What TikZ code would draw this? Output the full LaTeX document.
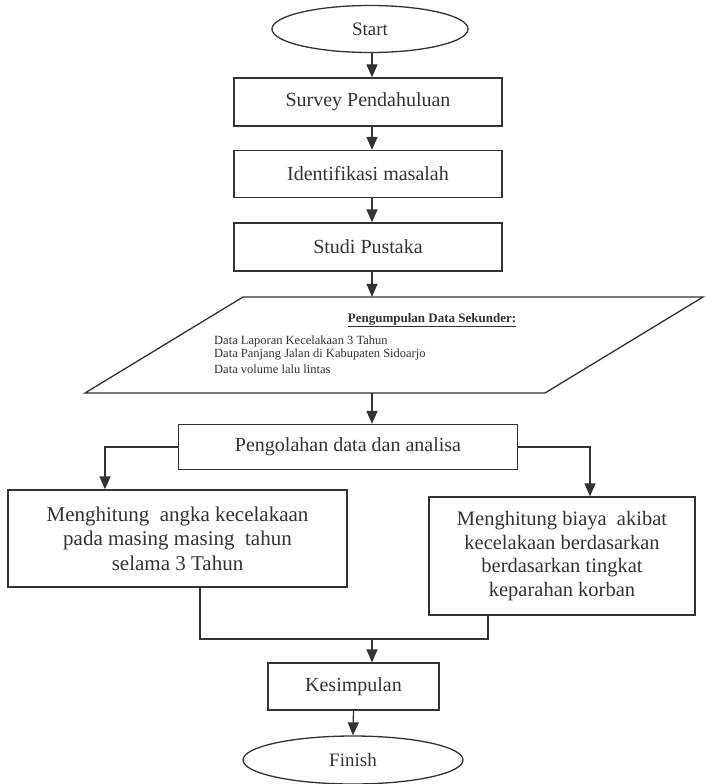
\documentclass[tikz,border=0pt]{standalone}
\usepackage{fontspec}
\setmainfont{Liberation Serif}
\usetikzlibrary{shapes.geometric,arrows.meta,calc}
\definecolor{ink}{HTML}{333333}
\tikzset{
  line/.style={draw=ink, line width=1.3pt},
  arr/.style={line, -{Triangle[length=13pt,width=11pt]}},
  box/.style={draw=ink, line width=1.3pt, rectangle, inner sep=0pt, font=\fontsize{20}{24}\selectfont, text=ink},
  oval/.style={draw=ink, line width=1.3pt, ellipse, inner sep=0pt, font=\fontsize{19}{23}\selectfont, text=ink},
  sidebox/.style={draw=ink, line width=1.3pt, rectangle, inner sep=0pt, align=center, font=\fontsize{21}{24.5}\selectfont, text=ink},
  small/.style={font=\fontsize{12.5}{14.5}\selectfont, text=ink, inner sep=0pt},
}
\begin{document}
\begin{tikzpicture}[x=1pt,y=-1pt]
\useasboundingbox (0,0) rectangle (707,784);
\fill[white] (0,0) rectangle (707,784);
\coordinate (cx) at (372,0);
\node[oval, minimum width=196pt, minimum height=47pt] (start) at (370,29) {Start};
\node[box, minimum width=268pt, minimum height=48pt] (survey) at (368,102) {Survey Pendahuluan};
\node[box, minimum width=268pt, minimum height=47pt] (ident) at (368,174) {Identifikasi masalah};
\node[box, minimum width=268pt, minimum height=48pt] (studi) at (368,247) {Studi Pustaka};
% parallelogram
\node[minimum width=300pt, minimum height=96pt, inner sep=0pt] (data) at (394,345) {};
\draw[line] (243,297) -- (703,297) -- (545,393) -- (85,393) -- cycle;
\node[small, font=\fontsize{13}{15}\selectfont\bfseries, anchor=center] (dtitle) at (432,320) {\underline{Pengumpulan Data Sekunder:}};
\node[small, anchor=west] (d1) at (214,341) {Data Laporan Kecelakaan 3 Tahun};
\node[small, anchor=west] (d2) at (214,355) {Data Panjang Jalan di Kabupaten Sidoarjo};
\node[small, anchor=west] (d3) at (214,369) {Data volume lalu lintas};
\node[box, minimum width=339pt, minimum height=45pt] (olah) at (348,447) {Pengolahan data dan analisa};
\node[sidebox, minimum width=339pt, minimum height=97pt] (left) at (177.5,538.5) {Menghitung\ \ angka kecelakaan\\pada masing masing\ \ tahun\\selama 3 Tahun};
\node[sidebox, minimum width=266pt, minimum height=118pt, font=\fontsize{20.5}{23.5}\selectfont] (right) at (562,556) {Menghitung biaya\ \ akibat\\kecelakaan berdasarkan\\berdasarkan tingkat\\keparahan korban};
\node[box, minimum width=171pt, minimum height=47pt] (kes) at (353.5,686.5) {Kesimpulan};
\node[oval, minimum width=220pt, minimum height=48pt] (finish) at (353,760) {Finish};
\coordinate (lx) at (105,0);
\coordinate (rx) at (590,0);
\coordinate (jl) at (200,639);
\coordinate (jr) at (488,639);
% connectors
\draw[arr] (start.south -| cx) -- (survey.north -| cx);
\draw[arr] (survey.south -| cx) -- (ident.north -| cx);
\draw[arr] (ident.south -| cx) -- (studi.north -| cx);
\draw[arr] (studi.south -| cx) -- (data.north -| cx);
\draw[arr] (data.south -| cx) -- (olah.north -| cx);
\draw[arr] (olah.west) -| (left.north -| lx);
\draw[arr] (olah.east) -| (right.north -| rx);
\draw[line] (left.south -| jl) -- (jl) -- (jr) -- (right.south -| jr);
\draw[arr] (jl -| cx) -- (kes.north -| cx);
\draw[arr] (kes.south) -- (finish.north);
\end{tikzpicture}
\end{document}
